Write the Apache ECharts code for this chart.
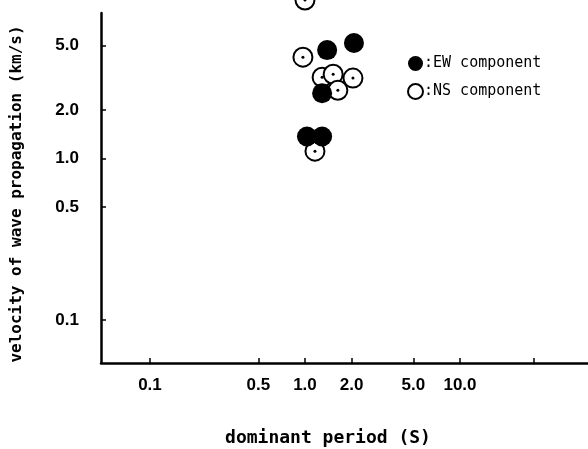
<!DOCTYPE html>
<html>
<head>
<meta charset="utf-8">
<script src="https://cdn.jsdelivr.net/npm/echarts@6/dist/echarts.min.js"></script>
<style>html,body{margin:0;padding:0;background:#fff}#c{width:588px;height:449px}</style>
</head>
<body>
<div id="c"></div>
<script>
// dominant period (s) / velocity (km/s)
const ewPeriod   = [1.39, 2.07, 1.29, 1.03, 1.29];
const ewVelocity = [4.70, 5.20, 2.54, 1.37, 1.37];
const nsPeriod   = [1.00, 0.97, 1.29, 1.52, 2.04, 1.63, 1.16];
const nsVelocity = [9.6, 4.25, 3.19, 3.33, 3.15, 2.65, 1.11];
const xTickValues  = [0.1, 0.5, 1.0, 2.0, 5.0, 10.0, 30.0];
const xLabelValues = [0.1, 0.5, 1.0, 2.0, 5.0, 10.0];
const yTickValues  = [0.1, 0.5, 1.0, 2.0, 5.0];
const seriesNames = [':EW component', ':NS component'];

const pair = (xs, ys) => xs.map((x, i) => [x, ys[i]]);
const numFont = "'Liberation Sans Narrow', 'Liberation Sans', Arial, sans-serif";
const monoFont = "'DejaVu Sans Mono', 'Liberation Mono', monospace";

const chart = echarts.init(document.getElementById('c'), null, {renderer: 'canvas'});
chart.setOption({
  animation: false,
  backgroundColor: '#fff',
  grid: {left: 101, top: 13, right: 0, bottom: 86, containLabel: false, outerBoundsMode: 'none'},
  legend: {
    data: [
      {name: seriesNames[0], icon: 'circle'},
      {name: seriesNames[1], icon: 'circle'}
    ],
    orient: 'vertical',
    left: 402, top: 51,
    itemWidth: 15, itemHeight: 15, itemGap: 12,
    textStyle: {fontFamily: monoFont, fontSize: 15, color: '#000', padding: [0, 0, 0, -4]}
  },
  xAxis: {
    type: 'log', logBase: 10,
    min: 0.0483, max: 67,
    name: 'dominant period (S)',
    nameLocation: 'middle', nameGap: 66,
    nameTextStyle: {fontFamily: monoFont, fontSize: 18, fontWeight: 'bold', color: '#000', padding: [0, 33, 0, 0]},
    axisLine: {lineStyle: {color: '#000', width: 2.5}},
    axisTick: {show: true, inside: true, length: 5, lineStyle: {color: '#000', width: 1.5}, customValues: xTickValues},
    axisLabel: {
      customValues: xLabelValues, margin: 14,
      fontFamily: numFont, fontSize: 17, fontWeight: 'bold', color: '#000',
      formatter: v => Number(v).toFixed(1)
    },
    splitLine: {show: false}, minorTick: {show: false}
  },
  yAxis: {
    type: 'log', logBase: 10,
    min: 0.054, max: 7.98,
    name: 'velocity of wave propagation (km/s)',
    nameLocation: 'middle', nameGap: 76, nameRotate: 90,
    nameTextStyle: {fontFamily: monoFont, fontSize: 16, fontWeight: 'bold', color: '#000', padding: [0, 12, 0, 0]},
    axisLine: {lineStyle: {color: '#000', width: 2.5}},
    axisTick: {show: true, inside: true, length: 5, lineStyle: {color: '#000', width: 1.5}, customValues: yTickValues},
    axisLabel: {
      customValues: yTickValues, margin: 22, padding: [8, 0, 0, 0],
      fontFamily: numFont, fontSize: 17, fontWeight: 'bold', color: '#000',
      formatter: v => Number(v).toFixed(1)
    },
    splitLine: {show: false}, minorTick: {show: false}
  },
  series: [
    {
      name: seriesNames[1], type: 'scatter', clip: false,
      symbol: 'circle', symbolSize: 19,
      itemStyle: {color: '#fff', borderColor: '#000', borderWidth: 2, opacity: 1},
      data: pair(nsPeriod, nsVelocity)
    },
    {
      name: 'ns-centre', type: 'scatter', clip: false, silent: true,
      symbol: 'circle', symbolSize: 3,
      itemStyle: {color: '#000', opacity: 1},
      data: pair(nsPeriod, nsVelocity)
    },
    {
      name: seriesNames[0], type: 'scatter', clip: false,
      symbol: 'circle', symbolSize: 20,
      itemStyle: {color: '#000', borderColor: '#000', borderWidth: 0, opacity: 1},
      data: pair(ewPeriod, ewVelocity)
    }
  ]
});
</script>
</body>
</html>
